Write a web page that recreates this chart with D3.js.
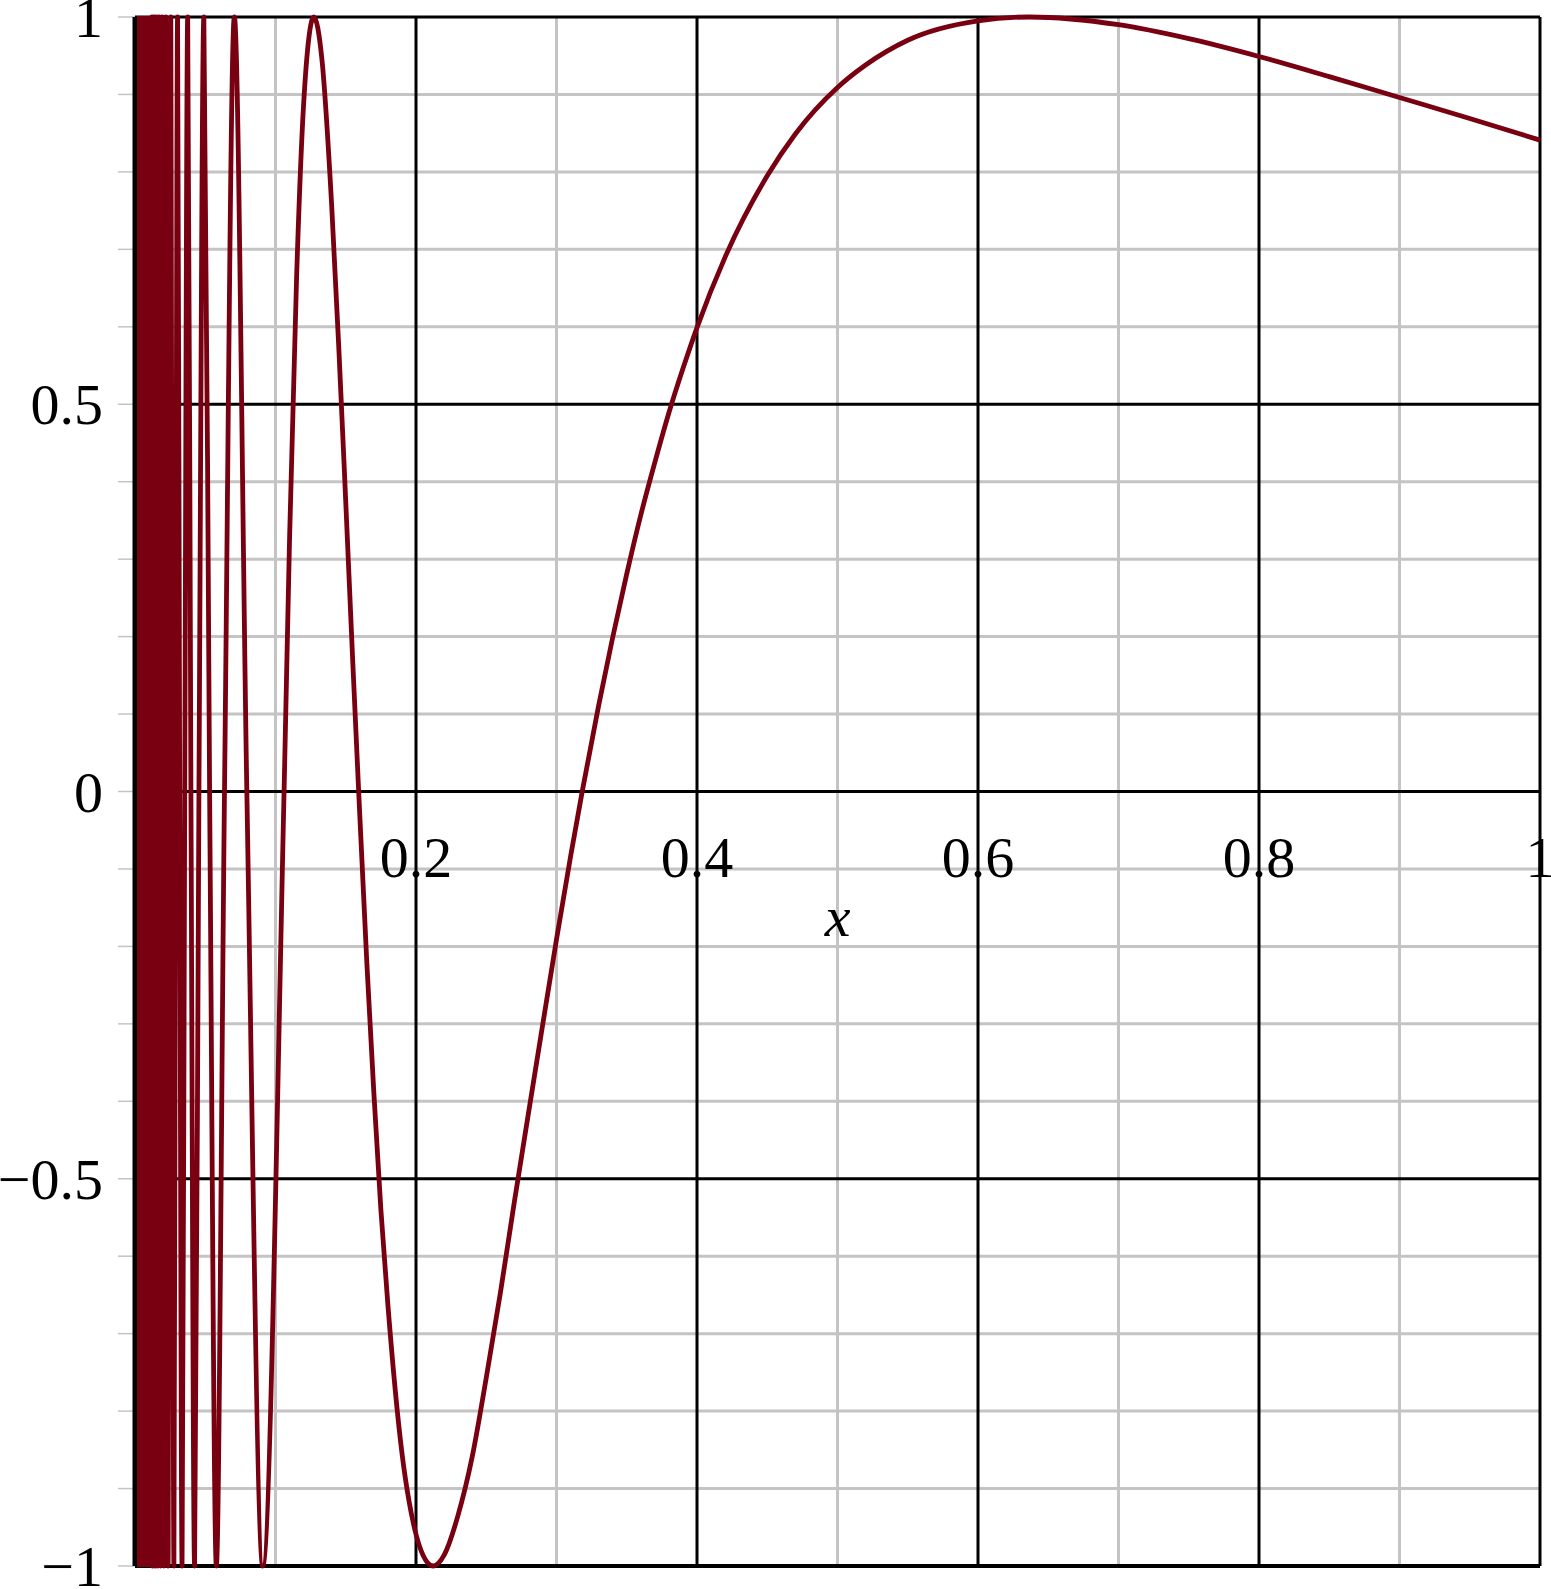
<!DOCTYPE html>
<html>
<head>
<meta charset="utf-8">
<script src="https://cdn.jsdelivr.net/npm/d3@7"></script>
<style>
  body { margin: 0; background: #fff; }
  svg { display: block; }
</style>
</head>
<body>
<svg id="chart" width="1551" height="1589"></svg>
<script>
// ticks and grid
var xMajor = [0, 0.2, 0.4, 0.6, 0.8, 1];
var xMinor = [0.1, 0.3, 0.5, 0.7, 0.9];
var xLabels = [0.2, 0.4, 0.6, 0.8, 1];
var yMajor = [-1, -0.5, 0, 0.5, 1];
var yMinor = [-0.9, -0.8, -0.7, -0.6, -0.4, -0.3, -0.2, -0.1, 0.1, 0.2, 0.3, 0.4, 0.6, 0.7, 0.8, 0.9];
var yLabels = [-1, -0.5, 0, 0.5, 1];

// part near x=0 where the curve is a solid block
var denseBand = [0, 0.0118];

// curve points (extrema, zero crossings, and some in between)
var curvePts = [
  [0.0118, 0], [0.0120, 1], [0.0122, 0], [0.0125, -1], [0.0127, 0], [0.0130, 1],
  [0.0133, 0], [0.0136, -1], [0.0138, 0], [0.0142, 1], [0.0145, 0], [0.0148, -1],
  [0.0152, 0], [0.0155, 1], [0.0159, 0], [0.0163, -1], [0.0168, 0], [0.0172, 1],
  [0.0177, 0], [0.0182, -1], [0.0187, 0], [0.0193, 1], [0.0199, 0], [0.0205, -1],
  [0.0212, 0], [0.0220, 1], [0.0227, 0], [0.0236, -1], [0.0245, 0], [0.0255, 1],
  [0.0265, 0], [0.0277, -1], [0.0289, 0], [0.0303, 1], [0.0318, 0], [0.0335, -1],
  [0.0354, 0], [0.0375, 1], [0.0398, 0], [0.0424, -1], [0.0455, 0], [0.0490, 1],
  [0.0531, 0], [0.0579, -1], [0.0637, 0], [0.0707, 1], [0.0796, 0], [0.0909, -1],
  [0.1061, 0], [0.110, 0.326], [0.115, 0.663], [0.120, 0.887], [0.1273, 1],
  [0.133, 0.946], [0.140, 0.756], [0.145, 0.575], [0.150, 0.374], [0.155, 0.167],
  [0.1592, 0], [0.165, -0.221], [0.170, -0.389], [0.175, -0.540], [0.180, -0.663],
  [0.190, -0.854], [0.195, -0.916], [0.200, -0.959], [0.205, -0.986], [0.2122, -1],
  [0.220, -0.986], [0.230, -0.934], [0.240, -0.859], [0.250, -0.757], [0.260, -0.648],
  [0.270, -0.530], [0.280, -0.416], [0.290, -0.303], [0.300, -0.191], [0.310, -0.084],
  [0.3183, 0], [0.330, 0.111], [0.340, 0.199], [0.350, 0.281], [0.360, 0.357],
  [0.370, 0.425], [0.380, 0.489], [0.390, 0.546], [0.400, 0.599], [0.420, 0.690],
  [0.450, 0.795], [0.470, 0.849], [0.500, 0.909], [0.520, 0.938], [0.550, 0.970],
  [0.600, 0.995], [0.6366, 1], [0.700, 0.990], [0.750, 0.972], [0.800, 0.949],
  [0.850, 0.923], [0.900, 0.896], [0.950, 0.869], [1.000, 0.841]
];

var svg = d3.select("#chart");
var plotLeft = 135, plotRight = 1540, plotTop = 17, plotBottom = 1566;

var x = d3.scaleLinear().domain([0, 1]).range([plotLeft, plotRight]);
var y = d3.scaleLinear().domain([-1, 1]).range([plotBottom, plotTop]);

var grid = svg.append("g");

// gray minor grid
grid.selectAll(".vminor").data(xMinor).enter().append("line")
  .attr("x1", function(d) { return x(d); }).attr("x2", function(d) { return x(d); })
  .attr("y1", plotTop).attr("y2", plotBottom)
  .attr("stroke", "#c4c4c4").attr("stroke-width", 3);
grid.selectAll(".hminor").data(yMinor).enter().append("line")
  .attr("x1", plotLeft).attr("x2", plotRight)
  .attr("y1", function(d) { return y(d); }).attr("y2", function(d) { return y(d); })
  .attr("stroke", "#c4c4c4").attr("stroke-width", 3);

// small ticks left of the axis
grid.selectAll(".ytick").data(yMinor.concat(yMajor)).enter().append("line")
  .attr("x1", plotLeft - 17).attr("x2", plotLeft)
  .attr("y1", function(d) { return y(d); }).attr("y2", function(d) { return y(d); })
  .attr("stroke", "#c4c4c4").attr("stroke-width", 1.5);

// black major grid
grid.selectAll(".vmajor").data(xMajor).enter().append("line")
  .attr("x1", function(d) { return x(d); }).attr("x2", function(d) { return x(d); })
  .attr("y1", plotTop).attr("y2", plotBottom)
  .attr("stroke", "#000").attr("stroke-width", function(d) { return d == 0 ? 5 : 3; });
grid.selectAll(".hmajor").data(yMajor).enter().append("line")
  .attr("x1", plotLeft).attr("x2", plotRight)
  .attr("y1", function(d) { return y(d); }).attr("y2", function(d) { return y(d); })
  .attr("stroke", "#000").attr("stroke-width", function(d) { return d == -1 ? 4 : 3; });

// curve
var curveColor = "#780010";
svg.append("rect")
  .attr("x", x(denseBand[0]) + 2).attr("y", y(1) - 1)
  .attr("width", x(denseBand[1]) - x(denseBand[0]) - 1)
  .attr("height", y(-1) - y(1) + 2)
  .attr("fill", curveColor);

var line = d3.line()
  .x(function(d) { return x(d[0]); })
  .y(function(d) { return y(d[1]); })
  .curve(d3.curveMonotoneX);

svg.append("path")
  .datum(curvePts)
  .attr("d", line)
  .attr("fill", "none")
  .attr("stroke", curveColor)
  .attr("stroke-width", 4.8)
  .attr("stroke-linejoin", "round");

// labels
var font = "'Liberation Serif', 'Times New Roman', serif";
function fmt(v) { return (v < 0 ? "\u2212" : "") + Math.abs(v); }

svg.selectAll(".ylab").data(yLabels).enter().append("text")
  .attr("x", 103)
  .attr("y", function(d) { return y(d) + 20; })
  .attr("text-anchor", "end")
  .attr("font-family", font).attr("font-size", 58)
  .text(function(d) { return fmt(d); });

svg.selectAll(".xlab").data(xLabels).enter().append("text")
  .attr("x", function(d) { return x(d); })
  .attr("y", 877)
  .attr("text-anchor", "middle")
  .attr("font-family", font).attr("font-size", 58)
  .text(function(d) { return fmt(d); });

svg.append("text")
  .attr("x", x(0.5)).attr("y", 936)
  .attr("text-anchor", "middle")
  .attr("font-family", font).attr("font-size", 58).attr("font-style", "italic")
  .text("x");
</script>
</body>
</html>
